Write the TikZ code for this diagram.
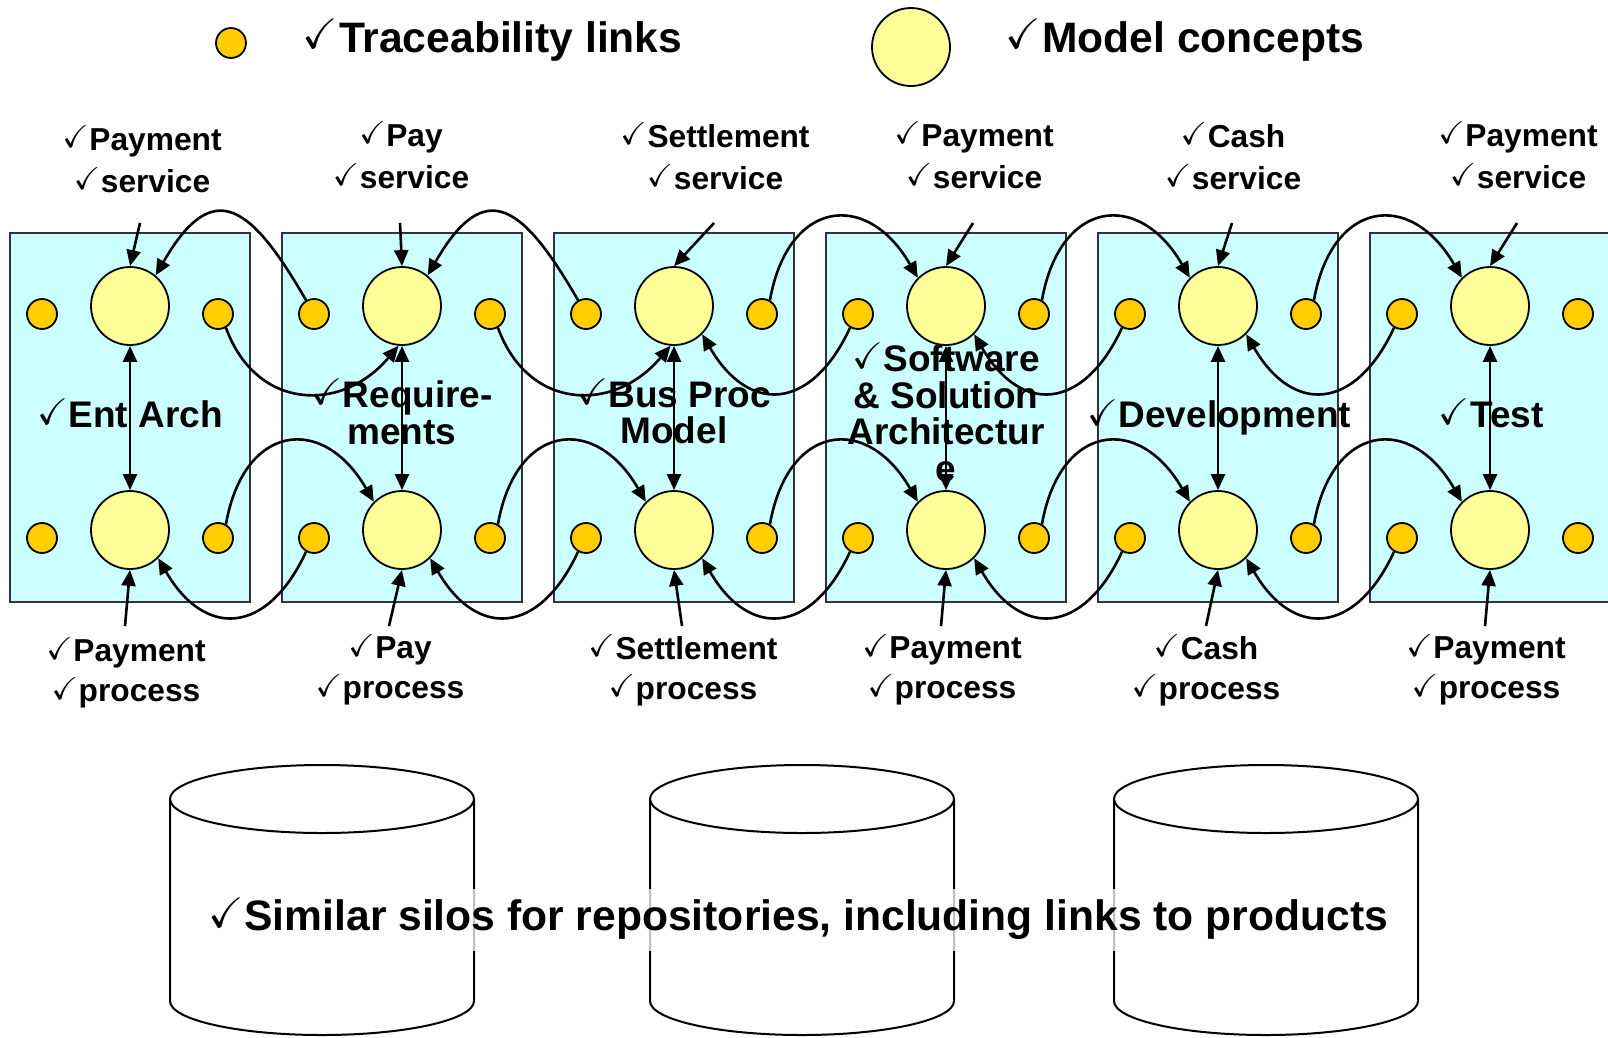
\documentclass[tikz,border=0pt]{standalone}
\usepackage{amssymb}
\usepackage{fontspec}
\setmainfont{Liberation Sans}
\usetikzlibrary{arrows.meta}

\definecolor{silofill}{HTML}{CCFFFF}
\definecolor{conceptfill}{HTML}{FFFF99}
\definecolor{linkfill}{HTML}{FFCC00}

\newcommand{\ck}{\smash{\raisebox{0.08em}{$\checkmark$}}\kern0.02em}

\begin{document}
\begin{tikzpicture}[x=1pt,y=-1pt,
  silo/.style={draw=black!80,line width=2pt,fill=silofill},
  concept/.style={circle,draw,line width=1.8pt,fill=conceptfill,minimum size=78pt,inner sep=0pt},
  tlink/.style={circle,draw,line width=1.8pt,fill=linkfill,minimum size=30pt,inner sep=0pt},
  conn/.style={line width=2.6pt,-{Triangle[length=16pt,width=14pt]}},
  dblconn/.style={line width=2.6pt,{Triangle[length=16pt,width=14pt]}-{Triangle[length=16pt,width=14pt]}},
  toplbl/.style={font=\fontsize{31.7}{42}\selectfont\bfseries,align=center,inner sep=0pt},
  botlbl/.style={font=\fontsize{31.7}{40}\selectfont\bfseries,align=center,inner sep=0pt},
  silolbl/.style={font=\fontsize{37}{36.5}\selectfont\bfseries,align=center,inner sep=0pt},
  headtxt/.style={font=\fontsize{42.6}{48}\selectfont\bfseries,inner sep=0pt},
  repo/.style={line width=2pt}]
\useasboundingbox (0,0) rectangle (1608,1037);

% legend
\node[tlink] (legl) at (231,43) {};
\node[headtxt] (legltxt) at (492.5,41) {\ck Traceability links};
\node[concept] (legc) at (911,47) {};
\node[headtxt] (legctxt) at (1185,41) {\ck Model concepts};

% the six silos
\foreach \i in {1,...,6} {
  \pgfmathtruncatemacro\L{10+272*(\i-1)}
  \draw[silo] (\L,233) rectangle ++(240,369);
  \node[concept] (top\i) at (\L+120,306) {};
  \node[concept] (bot\i) at (\L+120,530) {};
  \node[tlink] (tl\i) at (\L+32,314) {};
  \node[tlink] (tr\i) at (\L+208,314) {};
  \node[tlink] (bl\i) at (\L+32,538) {};
  \node[tlink] (br\i) at (\L+208,538) {};
  \draw[dblconn] (top\i.south) -- (bot\i.north);
}

% service labels on top
\foreach \i/\x/\y/\txt in {1/142/160.7/Payment,2/401/156.7/Pay,3/715/156.7/Settlement,
                           4/974/156.7/Payment,5/1233/156.7/Cash,6/1518/156.7/Payment} {
  \node[toplbl] (svc\i) at (\x,\y) {\ck\txt\\\ck service};
}
\foreach \i/\x in {1/140,2/400,3/714,4/973,5/1232,6/1517} {
  \coordinate (st\i) at (\x,223);
  \draw[conn] (st\i) -- (top\i.north);
}

% process labels below
\foreach \i/\x/\y/\txt in {1/126/674/Payment,2/390/671/Pay,3/683/671/Settlement,
                           4/942/671/Payment,5/1206/671/Cash,6/1486/671/Payment} {
  \node[botlbl] (prc\i) at (\x,\y) {\ck\txt\\\ck process};
}
\foreach \i/\x in {1/125,2/389,3/682,4/941,5/1206,6/1485} {
  \coordinate (sb\i) at (\x,626);
  \draw[conn] (sb\i) -- (bot\i.south);
}

% traceability links, upper row
\foreach \i in {1,2} {
  \pgfmathtruncatemacro\j{\i+1}
  \draw[conn] (tl\j.120) to[out=120,in=60,looseness=1.9] (top\i.50);
  \draw[conn] (tr\i.-60) to[out=-70,in=-130,looseness=1.3] (top\j.-95);
}
\foreach \i in {3,4,5} {
  \pgfmathtruncatemacro\j{\i+1}
  \draw[conn] (tr\i.60) to[out=80,in=120,looseness=1.75] (top\j.135);
  \draw[conn] (tl\j.-120) to[out=-115,in=-60,looseness=1.6] (top\i.-45);
}
% lower row
\foreach \i in {1,...,5} {
  \pgfmathtruncatemacro\j{\i+1}
  \draw[conn] (br\i.60) to[out=80,in=120,looseness=1.75] (bot\j.135);
  \draw[conn] (bl\j.-120) to[out=-115,in=-60,looseness=1.6] (bot\i.-45);
}

% silo names
\node[silolbl] (ea) at (130,414.5) {\ck Ent Arch};
\node[silolbl] (req) at (402,412.8) {\ck Require-\\ments};
\node[silolbl] (bpm) at (674,412.8) {\ck Bus Proc\\Model};
\node[silolbl] (ssa) at (946,413.3) {\ck Software\\\& Solution\\Architectur\\e};
\node[silolbl] (dev) at (1219,418.4) {\ck Development};
\node[silolbl] (tst) at (1491,414.8) {\ck Test};

% repositories
\foreach \x in {322,802,1266} {
  \draw[repo] (\x,799) ellipse [x radius=152pt,y radius=34pt];
  \draw[repo] (\x-152,799) -- (\x-152,1001) arc[start angle=180,end angle=360,x radius=152pt,y radius=34pt] -- (\x+152,799);
}
\node[headtxt,fill=white,fill opacity=0.75,text opacity=1,minimum height=62pt] (silos) at (798,920)
  {\ck Similar silos for repositories, including links to products};
\end{tikzpicture}
\end{document}
